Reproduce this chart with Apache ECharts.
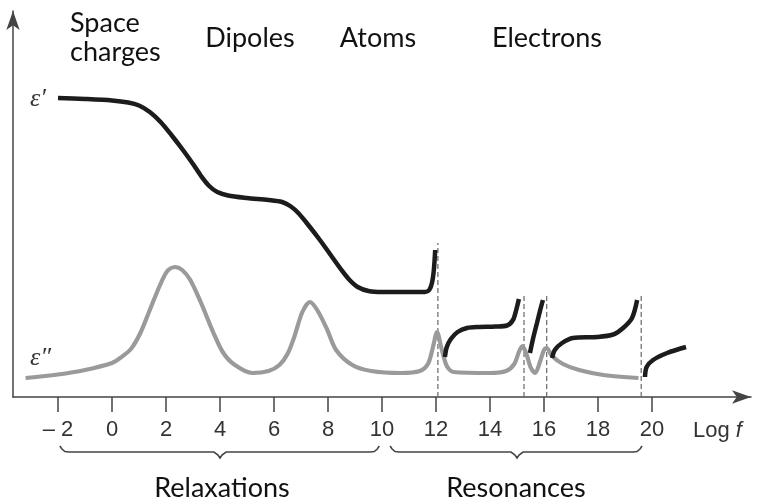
<!DOCTYPE html>
<html>
<head>
<meta charset="utf-8">
<script src="https://cdn.jsdelivr.net/npm/echarts@6/dist/echarts.min.js"></script>
<style>
html,body{margin:0;padding:0;background:#fff;}
#chart{width:757px;height:502px;}
</style>
</head>
<body>
<div id="chart"></div>
<script>
// ---- data (x = log f, y = arbitrary permittivity units) ----
const xTicks = [-2, 0, 2, 4, 6, 8, 10, 12, 14, 16, 18, 20];

const epsPrime1 = [[-2,29.9],[-1,29.8],[0,29.65],[0.6,29.45],[1.0,29.15],[1.4,28.5],[1.8,27.5],[2.2,26.2],[2.6,24.8],[3.0,23.3],[3.3,22.1],[3.6,21.1],[3.9,20.5],[4.3,20.15],[5,19.9],[5.8,19.7],[6.3,19.5],[6.6,19.1],[6.9,18.4],[7.3,17.1],[7.7,15.7],[8.1,14.2],[8.5,12.7],[8.8,11.7],[9.1,11.0],[9.5,10.6],[10,10.5],[11.6,10.5],[11.75,10.7],[11.85,11.4],[11.92,12.7],[11.97,14.7]];
const epsPrime2 = [[12.33,4.0],[12.4,5.0],[12.55,5.8],[12.8,6.5],[13.15,6.9],[13.6,7.0],[14.2,7.05],[14.63,7.15],[14.85,7.7],[14.97,8.7],[15.07,9.8]];
const epsPrime3 = [[15.48,4.4],[15.6,5.9],[15.74,7.4],[15.85,8.6],[15.96,9.7]];
const epsPrime4 = [[16.3,3.9],[16.4,4.7],[16.67,5.4],[17.07,5.9],[17.96,6.0],[18.56,6.25],[18.93,6.9],[19.26,7.9],[19.45,9.7]];
const epsPrime5 = [[19.74,2.0],[19.8,3.0],[20.04,3.7],[20.56,4.4],[21.26,5.0]];

const epsDoublePrime = [[-3.2,1.9],[-2,2.25],[-1,2.7],[0,3.4],[0.3,3.9],[0.7,4.8],[1.05,6.4],[1.4,8.7],[1.78,11.2],[2.05,12.6],[2.33,13.0],[2.6,12.7],[2.9,11.7],[3.3,9.4],[3.76,6.4],[4.1,4.5],[4.5,3.3],[5.2,2.4],[5.8,2.6],[6.2,3.2],[6.5,4.3],[6.75,6.0],[7.05,8.5],[7.33,9.5],[7.6,8.7],[7.96,6.8],[8.3,4.7],[8.9,3.2],[9.6,2.6],[10.7,2.4],[11.4,2.6],[11.7,3.3],[11.88,4.9],[12.04,6.5],[12.2,4.9],[12.4,3.1],[12.65,2.5],[14.0,2.4],[14.6,2.6],[14.9,3.3],[15.07,4.5],[15.2,5.1],[15.35,4.3],[15.5,3.0],[15.67,2.4],[15.85,3.5],[16.0,4.7],[16.1,4.9],[16.3,4.1],[16.7,3.3],[17.3,2.7],[18.2,2.2],[19.5,1.9]];

const dashX = [12.07, 15.26, 16.1, 19.6];
const dashTop = [15.4, 10.2, 10.2, 10.2];

const braceRanges = [[-1.93, 9.9, 4.0], [10.3, 19.63, 15.0]];
const braceLabels = ['Relaxations', 'Resonances'];
const topLabels = ['Dipoles', 'Atoms', 'Electrons'];

// ---- chart ----
const chart = echarts.init(document.getElementById('chart'), null, {renderer: 'canvas'});
const GRID = {left: 13, right: 6, top: 11, bottom: 105};
const PXU = 27; // pixels per log unit, used only to derive axis extent
const xMin = -2 - (58 - GRID.left) / PXU;
const xMax = -2 + (757 - GRID.right - 58) / PXU;

const series = [];
dashX.forEach((x, i) => {
  series.push({
    type: 'line', data: [[x, 0], [x, dashTop[i]]], symbol: 'none', silent: true, z: 1,
    lineStyle: {color: '#666', width: 1.2, type: [5, 3]}
  });
});
series.push({
  type: 'line', data: epsDoublePrime, symbol: 'none', smooth: 0.3, z: 2,
  lineStyle: {color: '#9a9a9a', width: 4.2}
});
[epsPrime1, epsPrime2, epsPrime3, epsPrime4, epsPrime5].forEach(d => {
  series.push({
    type: 'line', data: d, symbol: 'none', smooth: 0.3, z: 3,
    lineStyle: {color: '#1c1c1c', width: 4.5}
  });
});
series.push({
  type: 'custom', coordinateSystem: 'cartesian2d', clip: false, silent: true, z: 4,
  data: braceRanges,
  encode: {x: [0, 1, 2]},
  renderItem: function (params, api) {
    const a = api.coord([api.value(0), 0]);
    const b = api.coord([api.value(1), 0]);
    const c = api.coord([api.value(2), 0]);
    const y = a[1] + 55;
    const x0 = a[0], x1 = b[0], xc = c[0];
    return {
      type: 'polyline',
      shape: {points: [[x0, y - 6], [x0 + 2, y - 3], [x0 + 5, y - 0.5], [x0 + 9, y], [xc - 6, y], [xc - 2, y + 3], [xc, y + 6], [xc + 2, y + 3], [xc + 6, y], [x1 - 9, y], [x1 - 5, y - 0.5], [x1 - 2, y - 3], [x1, y - 6]]},
      style: {stroke: '#444', lineWidth: 1.6, fill: null}
    };
  }
});

const textFont = 'Lato, "Open Sans", sans-serif';
const graphics = [
  {type: 'text', left: 70, top: 9, style: {text: 'Space\ncharges', font: '27px ' + textFont, fill: '#111', lineHeight: 29}},
  {type: 'text', x: 250, y: 38, style: {text: topLabels[0], font: '27px ' + textFont, fill: '#111', align: 'center', verticalAlign: 'middle'}},
  {type: 'text', x: 378, y: 38, style: {text: topLabels[1], font: '27px ' + textFont, fill: '#111', align: 'center', verticalAlign: 'middle'}},
  {type: 'text', x: 547, y: 38, style: {text: topLabels[2], font: '27px ' + textFont, fill: '#111', align: 'center', verticalAlign: 'middle'}},
  {type: 'text', x: 222, y: 488, style: {text: braceLabels[0], font: '27px ' + textFont, fill: '#111', align: 'center', verticalAlign: 'middle'}},
  {type: 'text', x: 516, y: 488, style: {text: braceLabels[1], font: '27px ' + textFont, fill: '#111', align: 'center', verticalAlign: 'middle'}},
  {type: 'text', x: 30, y: 99, style: {text: 'ε′', font: 'italic 26px "Liberation Serif", serif', fill: '#333', verticalAlign: 'middle'}},
  {type: 'text', x: 30, y: 358, style: {text: 'ε″', font: 'italic 26px "Liberation Serif", serif', fill: '#333', verticalAlign: 'middle'}},
  {type: 'text', x: 693, y: 431, style: {
    rich: {a: {font: '22px "Liberation Sans", Arial, sans-serif', fill: '#333'}, b: {font: 'italic 22px "Liberation Sans", Arial, sans-serif', fill: '#333'}},
    text: '{a|Log }{b|f}', verticalAlign: 'middle'
  }}
];

chart.setOption({
  animation: false,
  backgroundColor: '#fff',
  grid: GRID,
  xAxis: {
    type: 'value', min: xMin, max: xMax,
    splitLine: {show: false},
    axisLine: {show: true, onZero: false, symbol: ['none', 'arrow'], symbolSize: [10, 19], lineStyle: {color: '#444', width: 1.5}},
    axisTick: {show: true, length: 15, customValues: xTicks, lineStyle: {color: '#444', width: 1.5}},
    axisLabel: {
      show: true, customValues: xTicks, margin: 22, color: '#333',
      fontSize: 22, fontFamily: '"Liberation Sans", Arial, sans-serif',
      formatter: v => (v < 0 ? '– ' + Math.abs(v) : String(v))
    }
  },
  yAxis: {
    type: 'value', min: 0, max: (397 - GRID.top) / 10,
    splitLine: {show: false},
    axisLine: {show: true, onZero: false, symbol: ['none', 'arrow'], symbolSize: [10, 19], lineStyle: {color: '#444', width: 1.5}},
    axisTick: {show: false},
    axisLabel: {show: false}
  },
  graphic: graphics,
  series: series
});
</script>
</body>
</html>
